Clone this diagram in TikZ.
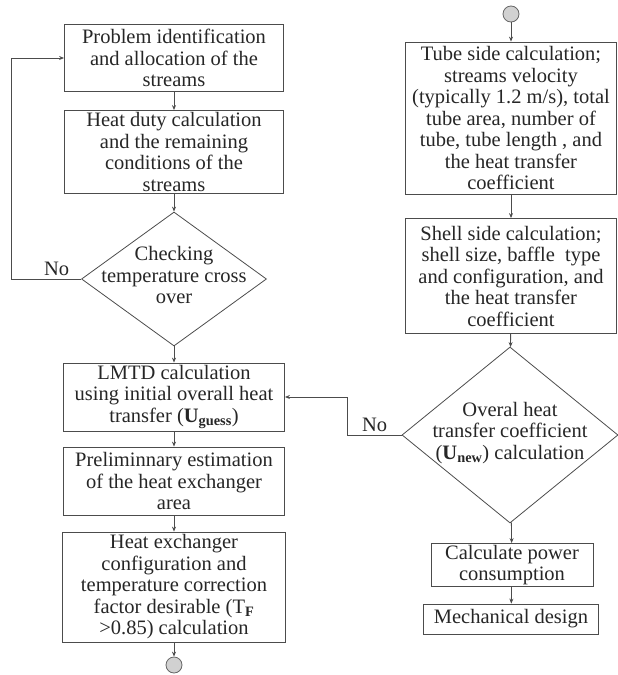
\documentclass[tikz,border=0pt]{standalone}
\usepackage{fontspec}
\setmainfont{Liberation Serif}
\usetikzlibrary{shapes.geometric,arrows.meta,calc}

\tikzset{
  arr/.style={draw=black!70, line width=0.8pt, -{Stealth[length=5pt,width=4pt]}},
  procbox/.style={draw=black!70, line width=0.8pt, rectangle, inner sep=0pt, align=center,
    font=\fontsize{20.5}{21.5}\selectfont, text=black!85},
  decision/.style={draw=black!70, line width=0.8pt, diamond, inner sep=0pt},
  dtext/.style={align=center, font=\fontsize{20.5}{21.5}\selectfont, text=black!85},
  term/.style={draw=black!60, fill=black!18, line width=0.8pt, circle, minimum size=16pt, inner sep=0pt},
  lbl/.style={font=\fontsize{20.5}{21.5}\selectfont, text=black!85}
}

\begin{document}
\begin{tikzpicture}[x=1pt, y=-1pt]

    \useasboundingbox (0,0) rectangle (618,675);

    % --- Left column ---
    \node[procbox, minimum width=219, minimum height=67] (prob) at (174,58)
      {Problem identification\\and allocation of the\\streams};
    \node[procbox, minimum width=219, minimum height=83] (duty) at (174,152)
      {Heat duty calculation\\and the remaining\\conditions of the\\streams};
    \node[decision, minimum width=185, minimum height=134] (cross) at (174,279) {};
    \node[dtext] (crosstxt) at (174,275) {Checking\\temperature cross\\over};
    \node[procbox, minimum width=221, minimum height=68] (lmtd) at (174,397)
      {LMTD calculation\\using initial overall heat\\transfer (\textbf{U}\textsubscript{\textbf{guess}})};
    \node[procbox, minimum width=221, minimum height=68] (prelim) at (174,481)
      {Preliminnary estimation\\of the heat exchanger\\area};
    \node[procbox, minimum width=223, minimum height=110] (config) at (174,587)
      {Heat exchanger\\configuration and\\temperature correction\\factor desirable (T\textsubscript{\textbf{F}}\\>0.85) calculation};
    \node[term] (endA) at (174,665) {};

    % --- Right column ---
    \node[term] (startB) at (511,14) {};
    \node[procbox, minimum width=211, minimum height=152] (tube) at (511,118)
      {Tube side calculation;\\streams velocity\\(typically 1.2 m/s), total\\tube area, number of\\tube, tube length , and\\the heat transfer\\coefficient};
    \node[procbox, minimum width=211, minimum height=115] (shell) at (511,276)
      {Shell side calculation;\\shell size, baffle\ \ type\\and configuration, and\\the heat transfer\\coefficient};
    \node[decision, minimum width=216, minimum height=176] (unew) at (510,435) {};
    \node[dtext] (unewtxt) at (510,433) {Overal heat\\transfer coefficient\\(\textbf{U}\textsubscript{\textbf{new}}) calculation};
    \node[procbox, minimum width=162, minimum height=43] (power) at (512,565)
      {Calculate power\\consumption};
    \node[procbox, minimum width=175, minimum height=30] (mech) at (511,619)
      {Mechanical design};

    % --- Connectors ---
    \draw[arr] (prob) -- (duty);
    \draw[arr] (duty) -- (cross);
    \draw[arr] (cross) -- (lmtd);
    \draw[arr] (lmtd) -- (prelim);
    \draw[arr] (prelim) -- (config);
    \draw[arr] (config) -- (endA);

    \draw[arr] (startB) -- (tube);
    \draw[arr] (tube) -- (shell);
    \draw[arr] (shell) -- (unew);
    \draw[arr] (unew) -- (power);
    \draw[arr] (power) -- (mech);

    % --- Loops back ---
    \draw[arr] (cross.west) -- node[lbl, above, pos=0.35] {No} ++(-70,0) |- (prob.west);
    \draw[arr] (unew.west) -- node[lbl, above] {No} ++(-54,0) |- (lmtd.east);

\end{tikzpicture}
\end{document}
